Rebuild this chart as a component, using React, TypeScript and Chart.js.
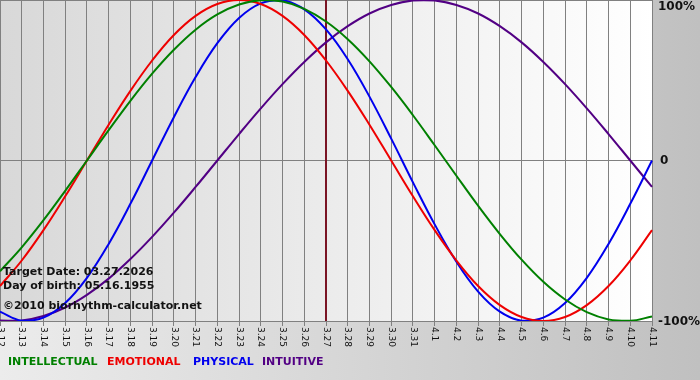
import React, { useEffect, useRef } from "react";
import { Chart, registerables } from "chart.js";

Chart.register(...registerables);

const dates = [
  "3.12", "3.13", "3.14", "3.15", "3.16", "3.17", "3.18", "3.19", "3.20", "3.21",
  "3.22", "3.23", "3.24", "3.25", "3.26", "3.27", "3.28", "3.29", "3.30", "3.31",
  "4.1", "4.2", "4.3", "4.4", "4.5", "4.6", "4.7", "4.8", "4.9", "4.10", "4.11",
];

const intellectual = [
  -69.0, -54.1, -37.2, -18.9, 0, 18.9, 37.2, 54.1, 69.0, 81.5, 91.0, 97.2, 99.9, 99.0, 94.5, 86.6,
  75.6, 61.8, 45.8, 28.2, 9.5, -9.5, -28.2, -45.8, -61.8, -75.6, -86.6, -94.5, -99.0, -99.9, -97.2,
];
const emotional = [
  -78.2, -62.3, -43.4, -22.3, 0, 22.3, 43.4, 62.3, 78.2, 90.1, 97.5, 100, 97.5, 90.1, 78.2, 62.3,
  43.4, 22.3, 0, -22.3, -43.4, -62.3, -78.2, -90.1, -97.5, -100, -97.5, -90.1, -78.2, -62.3, -43.4,
];
const physical = [
  -94.2, -99.8, -97.9, -88.8, -73.1, -52.0, -27.0, 0, 27.0, 52.0, 73.1, 88.8, 97.9, 99.8, 94.2, 81.7,
  63.1, 39.8, 13.6, -13.6, -39.8, -63.1, -81.7, -94.2, -99.8, -97.9, -88.8, -73.1, -52.0, -27.0, 0,
];
const intuitive = [
  -99.7, -99.7, -96.9, -91.6, -83.7, -73.6, -61.4, -47.6, -32.5, -16.5, 0, 16.5, 32.5, 47.6, 61.4, 73.6,
  83.7, 91.6, 96.9, 99.7, 99.7, 96.9, 91.6, 83.7, 73.6, 61.4, 47.6, 32.5, 16.5, 0, -16.5,
];

const seriesNames = ["INTELLECTUAL", "EMOTIONAL", "PHYSICAL", "INTUITIVE"];
const yTickValues = [100, 0, -100];
const yTickLabels = ["100%", "0", "-100%"];
const targetDate = "3.27";
const infoLines = ["Target Date: 03.27.2026", "Day of birth: 05.16.1955", "©2010 biorhythm-calculator.net"];

const COLORS = ["#008000", "#ee0000", "#0000ee", "#520084"];
const LEGEND_X = [8, 107, 193, 262];
const INFO_Y = [272, 286, 306];
const FONT = "'DejaVu Sans', Verdana, sans-serif";

const decorPlugin = {
  id: "decor",
  beforeDraw(chart: any) {
    const { ctx, chartArea: a, width, height } = chart;
    ctx.save();
    const g = ctx.createLinearGradient(0, 0, width, 0);
    g.addColorStop(0, "#ececec");
    g.addColorStop(1, "#c0c0c0");
    ctx.fillStyle = g;
    ctx.fillRect(0, 0, width, height);
    const pg = ctx.createLinearGradient(a.left, 0, a.right, 0);
    pg.addColorStop(0, "#d8d8d8");
    pg.addColorStop(1, "#ffffff");
    ctx.fillStyle = pg;
    ctx.fillRect(a.left, a.top, a.right - a.left, a.bottom - a.top);
    ctx.restore();
  },
  beforeDatasetsDraw(chart: any) {
    const { ctx, chartArea: a } = chart;
    const xs = chart.scales.x;
    const x = xs.getPixelForValue(dates.indexOf(targetDate));
    ctx.save();
    ctx.strokeStyle = "#7a1424";
    ctx.lineWidth = 2;
    ctx.beginPath();
    ctx.moveTo(x, a.top);
    ctx.lineTo(x, a.bottom);
    ctx.stroke();
    ctx.restore();
  },
  afterDraw(chart: any) {
    const { ctx, chartArea: a } = chart;
    const xs = chart.scales.x;
    const ys = chart.scales.y;
    ctx.save();
    // x tick labels, rotated clockwise
    ctx.fillStyle = "#111";
    ctx.font = `9px ${FONT}`;
    ctx.textAlign = "left";
    ctx.textBaseline = "middle";
    dates.forEach((d, i) => {
      const x = xs.getPixelForTick(i);
      ctx.save();
      ctx.translate(x, a.bottom + 6);
      ctx.rotate(Math.PI / 2);
      ctx.fillText(d, 0, 0);
      ctx.restore();
    });
    // y labels on the right
    ctx.font = `bold 12px ${FONT}`;
    ctx.fillStyle = "#111";
    yTickValues.forEach((v, i) => {
      const y = Math.max(ys.getPixelForValue(v), 7) + (v < 0 ? 1 : 0);
      const x = v === 0 ? a.right + 8 : a.right + 6;
      ctx.fillText(yTickLabels[i], x, y);
    });
    // info text
    ctx.font = `bold 11px ${FONT}`;
    ctx.fillStyle = "#111";
    infoLines.forEach((t, i) => ctx.fillText(t, a.left + 3, INFO_Y[i]));
    // legend
    seriesNames.forEach((n, i) => {
      ctx.fillStyle = COLORS[i];
      ctx.fillText(n, LEGEND_X[i], 362);
    });
    ctx.restore();
  },
};

export default function App() {
  const ref = useRef<HTMLCanvasElement | null>(null);
  useEffect(() => {
    if (!ref.current) return;
    const series = [intellectual, emotional, physical, intuitive];
    const chart = new Chart(ref.current, {
      type: "line",
      data: {
        labels: dates,
        datasets: series.map((s, i) => ({
          label: seriesNames[i],
          data: s,
          borderColor: COLORS[i],
          borderWidth: 2,
          pointRadius: 0,
          tension: 0.4,
          fill: false,
        })),
      },
      options: {
        responsive: false,
        animation: false,
        layout: { padding: { left: 0, top: 0, right: 48, bottom: 54 } },
        plugins: { legend: { display: false }, tooltip: { enabled: false } },
        scales: {
          x: {
            type: "category",
            offset: false,
            grid: { color: "#808080", lineWidth: 1, drawTicks: true, tickLength: 5 },
            border: { display: false },
            ticks: { display: false, autoSkip: false },
          },
          y: {
            min: -100,
            max: 100,
            ticks: { display: false, stepSize: 100 },
            grid: { color: "#808080", lineWidth: 1, drawTicks: false },
            border: { display: false },
          },
        },
      },
      plugins: [decorPlugin],
    } as any);
    return () => chart.destroy();
  }, []);
  return (
    <div style={{ position: "absolute", left: 0, top: 0, width: 700, height: 380 }}>
      <canvas ref={ref} width={700} height={380} />
    </div>
  );
}
